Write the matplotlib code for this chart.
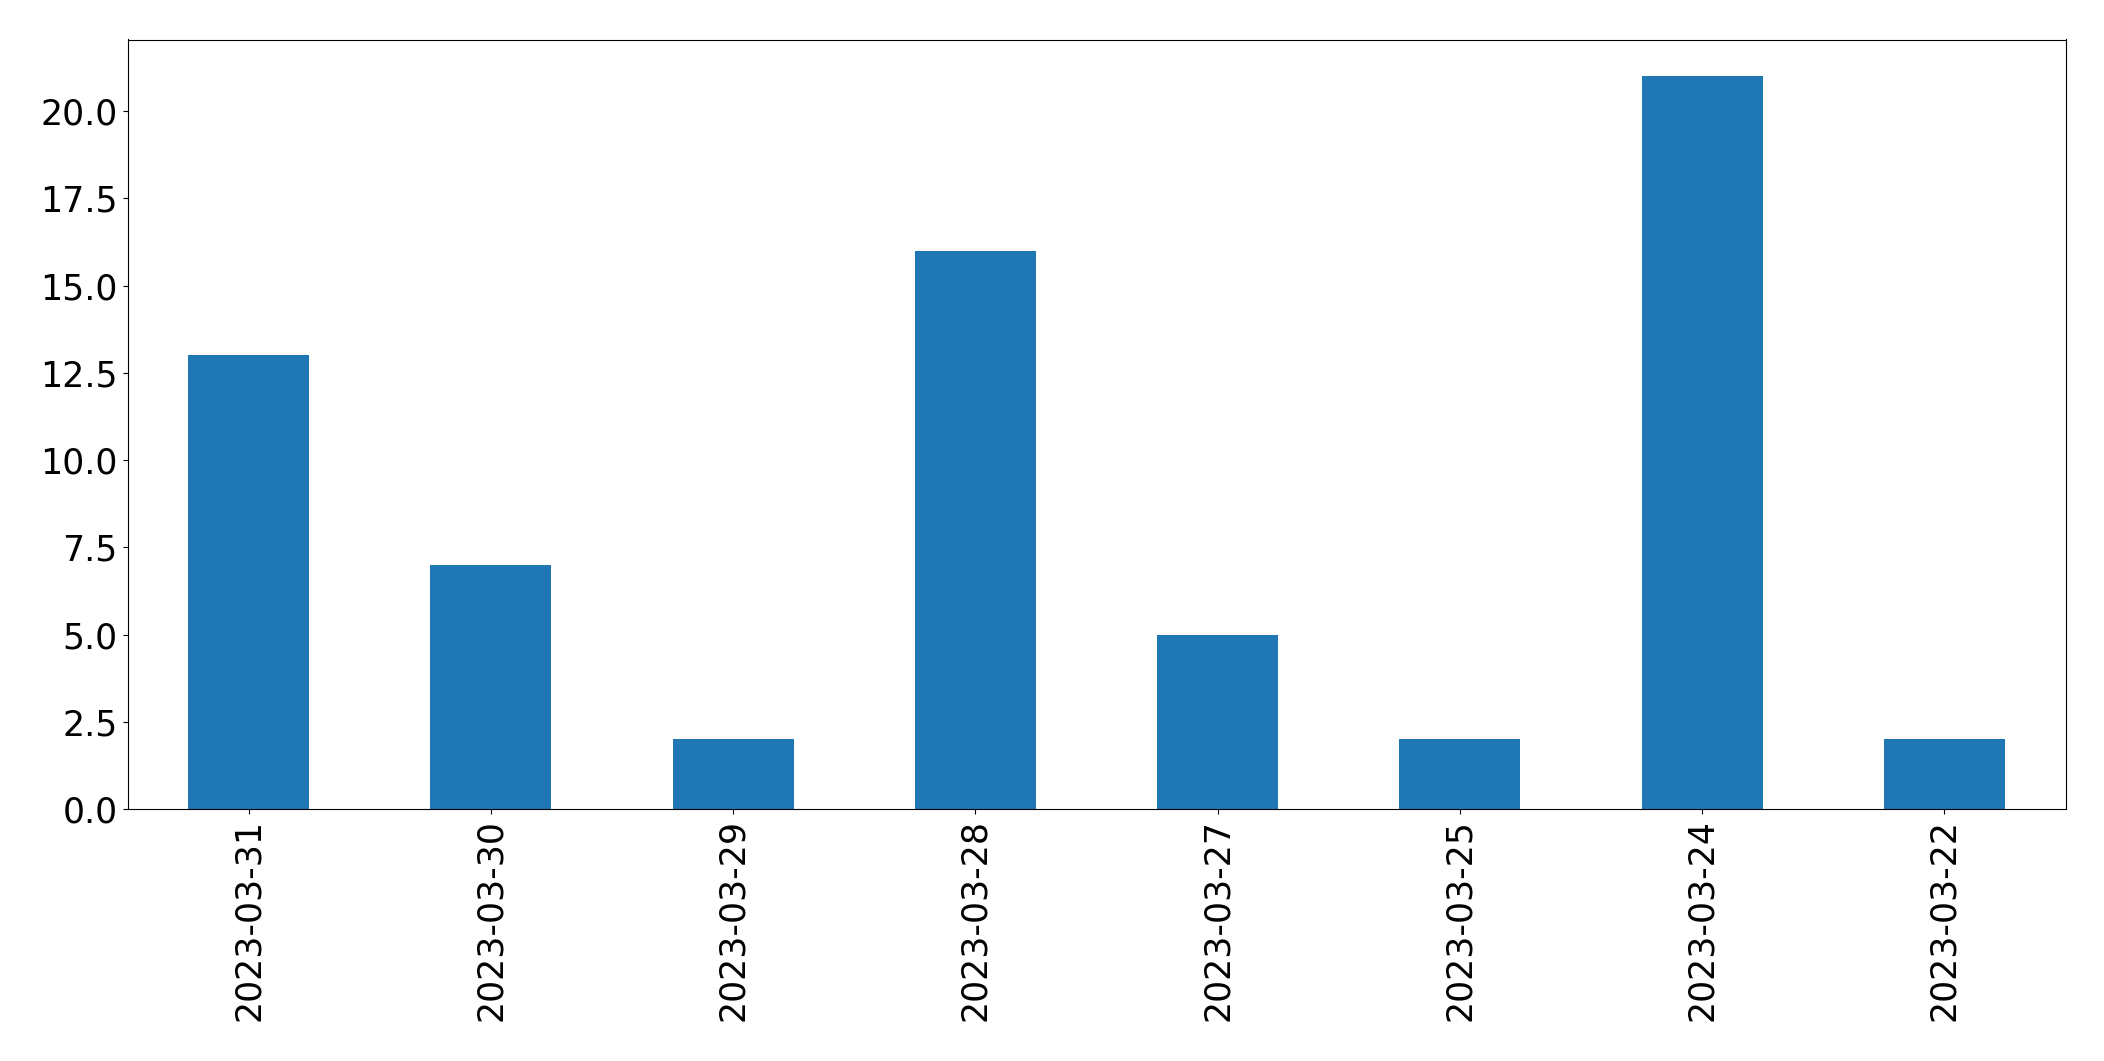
import matplotlib
matplotlib.use("Agg")
import matplotlib.pyplot as plt
import pandas as pd

dates = ["2023-03-31", "2023-03-30", "2023-03-29", "2023-03-28",
         "2023-03-27", "2023-03-25", "2023-03-24", "2023-03-22"]
counts = [13, 7, 2, 16, 5, 2, 21, 2]

W, H = 2104, 1061
fig = plt.figure(figsize=(W / 100, H / 100), dpi=100)
ax = fig.add_axes([127.5 / W, 1 - 809 / H, (2065.5 - 127.5) / W, (809 - 39.5) / H])

s = pd.Series(counts, index=dates)
s.plot(kind="bar", ax=ax, color="#1f77b4", width=0.5)
ax.tick_params(axis="both", labelsize=25)
for lbl in ax.get_xticklabels():
    lbl.set_rotation(90)

fig.savefig("out.png", dpi=100)
